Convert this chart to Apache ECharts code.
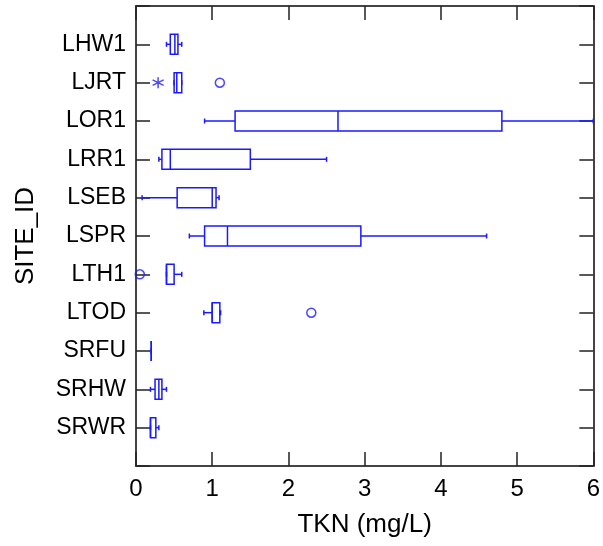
<!DOCTYPE html>
<html>
<head>
<meta charset="utf-8">
<script src="https://cdn.jsdelivr.net/npm/echarts@6/dist/echarts.min.js"></script>
<style>
  html, body { margin: 0; padding: 0; background: #fff; }
  #chart { width: 603px; height: 546px; }
</style>
</head>
<body>
<div id="chart"></div>
<script>
// TKN box plots by site
const sites = ['LHW1', 'LJRT', 'LOR1', 'LRR1', 'LSEB', 'LSPR', 'LTH1', 'LTOD', 'SRFU', 'SRHW', 'SRWR'];
const whiskerLow  = [0.40, 0.50, 0.90, 0.30, 0.08, 0.70, 0.40, 0.89, 0.20, 0.19, 0.19];
const quartile1   = [0.45, 0.50, 1.30, 0.34, 0.54, 0.90, 0.40, 1.00, 0.20, 0.25, 0.19];
const medians     = [0.51, 0.535, 2.65, 0.45, 1.00, 1.20, 0.40, 1.00, 0.20, 0.30, 0.19];
const quartile3   = [0.55, 0.60, 4.80, 1.50, 1.05, 2.95, 0.50, 1.10, 0.20, 0.34, 0.26];
const whiskerHigh = [0.60, 0.60, 6.00, 2.50, 1.09, 4.60, 0.60, 1.11, 0.20, 0.40, 0.30];
// outside values (circles) and far-outside values (asterisks)
const outsideSites  = ['LJRT', 'LTH1', 'LTOD'];
const outsideValues = [1.10, 0.05, 2.30];
const farSites  = ['LJRT'];
const farValues = [0.29];
const xTicks = [0, 1, 2, 3, 4, 5, 6];

// one empty slot above and below the sites
const categories = [''].concat(sites, ['']);

const blue = '#1a1aff';
const frame = '#444';
const font = 'Liberation Sans, Arial, sans-serif';

const boxData = sites.map((s, i) => [s, whiskerLow[i], quartile1[i], medians[i], quartile3[i], whiskerHigh[i]]);

function renderBox(params, api) {
  const cat = api.value(0);
  const pLow = api.coord([api.value(1), cat]);
  const pQ1 = api.coord([api.value(2), cat]);
  const pMed = api.coord([api.value(3), cat]);
  const pQ3 = api.coord([api.value(4), cat]);
  const pHigh = api.coord([api.value(5), cat]);
  const y = pMed[1];
  const hb = 10;   // half box height
  const hc = 2.5;  // half cap height
  const st = { stroke: blue, lineWidth: 1.5, fill: null };
  const children = [
    { type: 'line', shape: { x1: pLow[0], y1: y, x2: pQ1[0], y2: y }, style: st },
    { type: 'line', shape: { x1: pQ3[0], y1: y, x2: pHigh[0], y2: y }, style: st },
    { type: 'line', shape: { x1: pLow[0], y1: y - hc, x2: pLow[0], y2: y + hc }, style: st },
    { type: 'line', shape: { x1: pHigh[0], y1: y - hc, x2: pHigh[0], y2: y + hc }, style: st },
    { type: 'rect', shape: { x: pQ1[0], y: y - hb, width: pQ3[0] - pQ1[0], height: 2 * hb }, style: st },
    { type: 'line', shape: { x1: pMed[0], y1: y - hb, x2: pMed[0], y2: y + hb }, style: st }
  ];
  return { type: 'group', children: children };
}

const axisLine = { show: true, onZero: false, lineStyle: { color: frame, width: 2 } };
const axisTick = { show: true, inside: true, length: 14, lineStyle: { color: '#222', width: 1.5 } };

const chart = echarts.init(document.getElementById('chart'), null, { renderer: 'canvas' });
chart.setOption({
  animation: false,
  backgroundColor: '#fff',
  grid: { left: 136, right: 7, top: 6, bottom: 80, containLabel: false },
  xAxis: [
    {
      type: 'value', min: 0, max: 6, interval: 1, position: 'bottom',
      name: 'TKN (mg/L)', nameLocation: 'middle', nameGap: 46,
      nameTextStyle: { fontFamily: font, fontSize: 26, color: '#000' },
      axisLine: axisLine, axisTick: axisTick, splitLine: { show: false },
      axisLabel: { fontFamily: font, fontSize: 24, color: '#000', margin: 11,
        formatter: v => xTicks.includes(v) ? String(v) : '' }
    },
    {
      type: 'value', min: 0, max: 6, interval: 1, position: 'top',
      axisLine: axisLine, axisTick: axisTick, splitLine: { show: false },
      axisLabel: { show: false }
    }
  ],
  yAxis: [
    {
      type: 'category', data: categories, inverse: true, boundaryGap: false,
      position: 'left',
      name: 'SITE_ID', nameLocation: 'middle', nameGap: 97, nameRotate: 90,
      nameTextStyle: { fontFamily: font, fontSize: 26, color: '#000' },
      axisLine: axisLine, axisTick: axisTick,
      splitLine: { show: false },
      axisLabel: { fontFamily: font, fontSize: 23, color: '#000', margin: 10, interval: 0 }
    },
    {
      type: 'category', data: categories, inverse: true, boundaryGap: false,
      position: 'right',
      axisLine: axisLine, axisTick: axisTick, splitLine: { show: false },
      axisLabel: { show: false }
    }
  ],
  series: [
    {
      type: 'custom', xAxisIndex: 0, yAxisIndex: 0,
      renderItem: renderBox,
      encode: { y: 0, x: [1, 2, 3, 4, 5] },
      data: boxData,
      clip: true
    },
    {
      type: 'scatter', xAxisIndex: 0, yAxisIndex: 0,
      symbol: 'circle', symbolSize: 9,
      itemStyle: { color: 'rgba(0,0,0,0)', borderColor: blue, borderWidth: 1.5 },
      data: outsideSites.map((s, i) => [outsideValues[i], s])
    },
    {
      type: 'scatter', xAxisIndex: 0, yAxisIndex: 0,
      symbol: 'path://M5,0L5,10M0.7,2.5L9.3,7.5M0.7,7.5L9.3,2.5', symbolSize: 11,
      itemStyle: { color: 'rgba(0,0,0,0)', borderColor: blue, borderWidth: 1.5 },
      data: farSites.map((s, i) => [farValues[i], s])
    }
  ]
});
</script>
</body>
</html>
